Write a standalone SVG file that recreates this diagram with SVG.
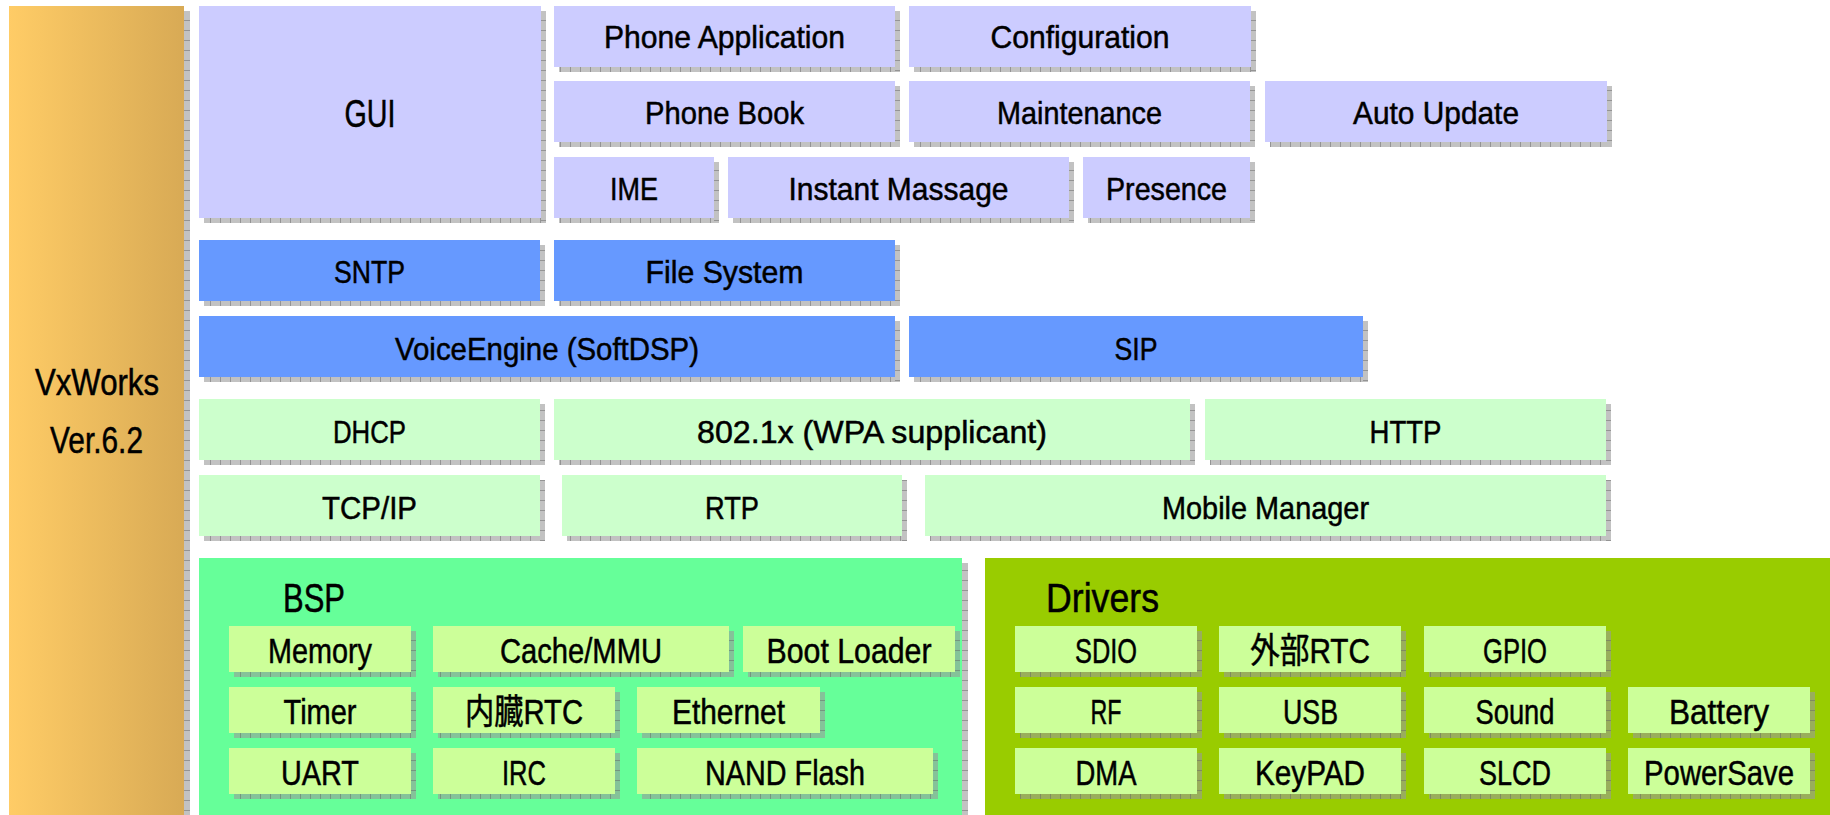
<svg xmlns="http://www.w3.org/2000/svg" width="1830" height="815" viewBox="0 0 1830 815">
<defs>
<linearGradient id="vxg" x1="0" y1="0" x2="1" y2="0">
<stop offset="0" stop-color="#FFCC66"/>
<stop offset="1" stop-color="#D8AA55"/>
</linearGradient>
<pattern id="ph" width="10" height="10" patternUnits="userSpaceOnUse">
<rect width="10" height="10" fill="#999" fill-opacity="0.6"/>
<rect width="1" height="10" fill="#666" fill-opacity="0.5"/>
</pattern>
<pattern id="pv" width="10" height="10" patternUnits="userSpaceOnUse">
<rect width="10" height="10" fill="#999" fill-opacity="0.6"/>
<rect width="10" height="1" fill="#666" fill-opacity="0.5"/>
</pattern>
<style>
.sb{fill:url(#ph)}
.sr{fill:url(#pv)}
.lav{fill:#CCCCFF}
.blu{fill:#6699FF}
.lgr{fill:#CCFFCC}
.bsp{fill:#66FF99}
.drv{fill:#99CC00}
.inn{fill:#CCFF99}
text{font-family:"Liberation Sans","Noto Sans CJK JP",sans-serif;fill:#000;stroke:#000;stroke-width:0.5px}
.t1{font-size:32px}
.t2{font-size:35px}
.t3{font-size:40px}
</style>
</defs>
<rect width="1830" height="815" fill="#FFFFFF"/>

<g id="vxworks">
<rect class="sr" x="184" y="11" width="6" height="804"/>
<rect x="9" y="6" width="175" height="809" fill="url(#vxg)"/>
<text x="35" y="395" style="font-size:36px" textLength="124" lengthAdjust="spacingAndGlyphs">VxWorks</text>
<text x="50" y="453" style="font-size:36px" textLength="93" lengthAdjust="spacingAndGlyphs">Ver.6.2</text>
</g>

<g id="gui">
<rect class="sr" x="541" y="11" width="5" height="212"/>
<rect class="sb" x="204" y="218" width="337" height="5"/>
<rect class="lav" x="199" y="6" width="342" height="212"/>
<text x="344.5" y="127" style="font-size:38px" textLength="51" lengthAdjust="spacingAndGlyphs">GUI</text>
</g>

<g id="phone-application">
<rect class="sr" x="895" y="11" width="5" height="61"/>
<rect class="sb" x="559" y="67" width="336" height="5"/>
<rect class="lav" x="554" y="6" width="341" height="61"/>
<text class="t1" x="604" y="48" textLength="241" lengthAdjust="spacingAndGlyphs">Phone Application</text>
</g>

<g id="configuration">
<rect class="sr" x="1251" y="11" width="5" height="61"/>
<rect class="sb" x="914" y="67" width="337" height="5"/>
<rect class="lav" x="909" y="6" width="342" height="61"/>
<text class="t1" x="990.5" y="48" textLength="179" lengthAdjust="spacingAndGlyphs">Configuration</text>
</g>

<g id="phone-book">
<rect class="sr" x="895" y="86" width="5" height="61"/>
<rect class="sb" x="559" y="142" width="336" height="5"/>
<rect class="lav" x="554" y="81" width="341" height="61"/>
<text class="t1" x="645" y="124" textLength="159" lengthAdjust="spacingAndGlyphs">Phone Book</text>
</g>

<g id="maintenance">
<rect class="sr" x="1250" y="86" width="5" height="61"/>
<rect class="sb" x="914" y="142" width="336" height="5"/>
<rect class="lav" x="909" y="81" width="341" height="61"/>
<text class="t1" x="997" y="124" textLength="165" lengthAdjust="spacingAndGlyphs">Maintenance</text>
</g>

<g id="auto-update">
<rect class="sr" x="1607" y="86" width="5" height="61"/>
<rect class="sb" x="1270" y="142" width="337" height="5"/>
<rect class="lav" x="1265" y="81" width="342" height="61"/>
<text class="t1" x="1353" y="124" textLength="166" lengthAdjust="spacingAndGlyphs">Auto Update</text>
</g>

<g id="ime">
<rect class="sr" x="714" y="162" width="5" height="61"/>
<rect class="sb" x="559" y="218" width="155" height="5"/>
<rect class="lav" x="554" y="157" width="160" height="61"/>
<text class="t1" x="610" y="200" textLength="48" lengthAdjust="spacingAndGlyphs">IME</text>
</g>

<g id="instant-massage">
<rect class="sr" x="1069" y="162" width="5" height="61"/>
<rect class="sb" x="733" y="218" width="336" height="5"/>
<rect class="lav" x="728" y="157" width="341" height="61"/>
<text class="t1" x="788.5" y="200" textLength="220" lengthAdjust="spacingAndGlyphs">Instant Massage</text>
</g>

<g id="presence">
<rect class="sr" x="1250" y="162" width="5" height="61"/>
<rect class="sb" x="1088" y="218" width="162" height="5"/>
<rect class="lav" x="1083" y="157" width="167" height="61"/>
<text class="t1" x="1106" y="200" textLength="121" lengthAdjust="spacingAndGlyphs">Presence</text>
</g>

<g id="sntp">
<rect class="sr" x="540" y="245" width="5" height="61"/>
<rect class="sb" x="204" y="301" width="336" height="5"/>
<rect class="blu" x="199" y="240" width="341" height="61"/>
<text class="t1" x="334" y="283" textLength="71" lengthAdjust="spacingAndGlyphs">SNTP</text>
</g>

<g id="file-system">
<rect class="sr" x="895" y="245" width="5" height="61"/>
<rect class="sb" x="559" y="301" width="336" height="5"/>
<rect class="blu" x="554" y="240" width="341" height="61"/>
<text class="t1" x="645.5" y="283" textLength="158" lengthAdjust="spacingAndGlyphs">File System</text>
</g>

<g id="voice-engine">
<rect class="sr" x="895" y="321" width="5" height="61"/>
<rect class="sb" x="204" y="377" width="691" height="5"/>
<rect class="blu" x="199" y="316" width="696" height="61"/>
<text class="t1" x="395" y="359.5" textLength="304" lengthAdjust="spacingAndGlyphs">VoiceEngine (SoftDSP)</text>
</g>

<g id="sip">
<rect class="sr" x="1363" y="321" width="5" height="61"/>
<rect class="sb" x="914" y="377" width="449" height="5"/>
<rect class="blu" x="909" y="316" width="454" height="61"/>
<text class="t1" x="1114.5" y="359.5" textLength="43" lengthAdjust="spacingAndGlyphs">SIP</text>
</g>

<g id="dhcp">
<rect class="sr" x="540" y="404" width="5" height="61"/>
<rect class="sb" x="204" y="460" width="336" height="5"/>
<rect class="lgr" x="199" y="399" width="341" height="61"/>
<text class="t1" x="333" y="442.5" textLength="73" lengthAdjust="spacingAndGlyphs">DHCP</text>
</g>

<g id="wpa-supplicant">
<rect class="sr" x="1190" y="404" width="5" height="61"/>
<rect class="sb" x="559" y="460" width="631" height="5"/>
<rect class="lgr" x="554" y="399" width="636" height="61"/>
<text class="t1" x="697" y="442.5" textLength="350" lengthAdjust="spacingAndGlyphs">802.1x (WPA supplicant)</text>
</g>

<g id="http">
<rect class="sr" x="1606" y="404" width="5" height="61"/>
<rect class="sb" x="1210" y="460" width="396" height="5"/>
<rect class="lgr" x="1205" y="399" width="401" height="61"/>
<text class="t1" x="1369.5" y="442.5" textLength="72" lengthAdjust="spacingAndGlyphs">HTTP</text>
</g>

<g id="tcp-ip">
<rect class="sr" x="540" y="480" width="5" height="61"/>
<rect class="sb" x="204" y="536" width="336" height="5"/>
<rect class="lgr" x="199" y="475" width="341" height="61"/>
<text class="t1" x="322" y="518.5" textLength="95" lengthAdjust="spacingAndGlyphs">TCP/IP</text>
</g>

<g id="rtp">
<rect class="sr" x="902" y="480" width="5" height="61"/>
<rect class="sb" x="567" y="536" width="335" height="5"/>
<rect class="lgr" x="562" y="475" width="340" height="61"/>
<text class="t1" x="705" y="518.5" textLength="54" lengthAdjust="spacingAndGlyphs">RTP</text>
</g>

<g id="mobile-manager">
<rect class="sr" x="1606" y="480" width="5" height="61"/>
<rect class="sb" x="930" y="536" width="676" height="5"/>
<rect class="lgr" x="925" y="475" width="681" height="61"/>
<text class="t1" x="1162" y="518.5" textLength="207" lengthAdjust="spacingAndGlyphs">Mobile Manager</text>
</g>

<g id="bsp">
<rect class="sr" x="962" y="563" width="6" height="260"/>
<rect class="bsp" x="199" y="558" width="763" height="262"/>
<text class="t3" x="283" y="612" textLength="62" lengthAdjust="spacingAndGlyphs">BSP</text>
</g>

<g id="drivers">
<rect class="drv" x="985" y="558" width="850" height="262"/>
<text class="t3" x="1046" y="612" textLength="113" lengthAdjust="spacingAndGlyphs">Drivers</text>
</g>

<g id="memory">
<rect class="sr" x="411" y="631" width="5" height="46"/>
<rect class="sb" x="234" y="672" width="177" height="5"/>
<rect class="inn" x="229" y="626" width="182" height="46"/>
<text class="t2" x="268" y="662.5" textLength="104" lengthAdjust="spacingAndGlyphs">Memory</text>
</g>

<g id="cache-mmu">
<rect class="sr" x="729" y="631" width="5" height="46"/>
<rect class="sb" x="438" y="672" width="291" height="5"/>
<rect class="inn" x="433" y="626" width="296" height="46"/>
<text class="t2" x="500" y="662.5" textLength="162" lengthAdjust="spacingAndGlyphs">Cache/MMU</text>
</g>

<g id="boot-loader">
<rect class="sr" x="955" y="631" width="5" height="46"/>
<rect class="sb" x="748" y="672" width="207" height="5"/>
<rect class="inn" x="743" y="626" width="212" height="46"/>
<text class="t2" x="766.5" y="662.5" textLength="165" lengthAdjust="spacingAndGlyphs">Boot Loader</text>
</g>

<g id="timer">
<rect class="sr" x="411" y="692" width="5" height="46"/>
<rect class="sb" x="234" y="733" width="177" height="5"/>
<rect class="inn" x="229" y="687" width="182" height="46"/>
<text class="t2" x="283.5" y="723.5" textLength="73" lengthAdjust="spacingAndGlyphs">Timer</text>
</g>

<g id="internal-rtc">
<rect class="sr" x="615" y="692" width="5" height="46"/>
<rect class="sb" x="438" y="733" width="177" height="5"/>
<rect class="inn" x="433" y="687" width="182" height="46"/>
<text class="t2" x="465" y="723.5" textLength="118" lengthAdjust="spacingAndGlyphs">内臓RTC</text>
</g>

<g id="ethernet">
<rect class="sr" x="820" y="692" width="5" height="46"/>
<rect class="sb" x="642" y="733" width="178" height="5"/>
<rect class="inn" x="637" y="687" width="183" height="46"/>
<text class="t2" x="672" y="723.5" textLength="113" lengthAdjust="spacingAndGlyphs">Ethernet</text>
</g>

<g id="uart">
<rect class="sr" x="411" y="753" width="5" height="46"/>
<rect class="sb" x="234" y="794" width="177" height="5"/>
<rect class="inn" x="229" y="748" width="182" height="46"/>
<text class="t2" x="281" y="784.5" textLength="78" lengthAdjust="spacingAndGlyphs">UART</text>
</g>

<g id="irc">
<rect class="sr" x="615" y="753" width="5" height="46"/>
<rect class="sb" x="438" y="794" width="177" height="5"/>
<rect class="inn" x="433" y="748" width="182" height="46"/>
<text class="t2" x="502" y="784.5" textLength="44" lengthAdjust="spacingAndGlyphs">IRC</text>
</g>

<g id="nand-flash">
<rect class="sr" x="933" y="753" width="5" height="46"/>
<rect class="sb" x="642" y="794" width="291" height="5"/>
<rect class="inn" x="637" y="748" width="296" height="46"/>
<text class="t2" x="705" y="784.5" textLength="160" lengthAdjust="spacingAndGlyphs">NAND Flash</text>
</g>

<g id="sdio">
<rect class="sr" x="1197" y="631" width="5" height="46"/>
<rect class="sb" x="1020" y="672" width="177" height="5"/>
<rect class="inn" x="1015" y="626" width="182" height="46"/>
<text class="t2" x="1075" y="662.5" textLength="62" lengthAdjust="spacingAndGlyphs">SDIO</text>
</g>

<g id="external-rtc">
<rect class="sr" x="1401" y="631" width="5" height="46"/>
<rect class="sb" x="1224" y="672" width="177" height="5"/>
<rect class="inn" x="1219" y="626" width="182" height="46"/>
<text class="t2" x="1250" y="662.5" textLength="120" lengthAdjust="spacingAndGlyphs">外部RTC</text>
</g>

<g id="gpio">
<rect class="sr" x="1606" y="631" width="5" height="46"/>
<rect class="sb" x="1429" y="672" width="177" height="5"/>
<rect class="inn" x="1424" y="626" width="182" height="46"/>
<text class="t2" x="1483" y="662.5" textLength="64" lengthAdjust="spacingAndGlyphs">GPIO</text>
</g>

<g id="rf">
<rect class="sr" x="1197" y="692" width="5" height="46"/>
<rect class="sb" x="1020" y="733" width="177" height="5"/>
<rect class="inn" x="1015" y="687" width="182" height="46"/>
<text class="t2" x="1090.5" y="723.5" textLength="31" lengthAdjust="spacingAndGlyphs">RF</text>
</g>

<g id="usb">
<rect class="sr" x="1401" y="692" width="5" height="46"/>
<rect class="sb" x="1224" y="733" width="177" height="5"/>
<rect class="inn" x="1219" y="687" width="182" height="46"/>
<text class="t2" x="1283" y="723.5" textLength="55" lengthAdjust="spacingAndGlyphs">USB</text>
</g>

<g id="sound">
<rect class="sr" x="1606" y="692" width="5" height="46"/>
<rect class="sb" x="1429" y="733" width="177" height="5"/>
<rect class="inn" x="1424" y="687" width="182" height="46"/>
<text class="t2" x="1475.5" y="723.5" textLength="79" lengthAdjust="spacingAndGlyphs">Sound</text>
</g>

<g id="battery">
<rect class="sr" x="1810" y="692" width="5" height="46"/>
<rect class="sb" x="1633" y="733" width="177" height="5"/>
<rect class="inn" x="1628" y="687" width="182" height="46"/>
<text class="t2" x="1669" y="723.5" textLength="100" lengthAdjust="spacingAndGlyphs">Battery</text>
</g>

<g id="dma">
<rect class="sr" x="1197" y="753" width="5" height="46"/>
<rect class="sb" x="1020" y="794" width="177" height="5"/>
<rect class="inn" x="1015" y="748" width="182" height="46"/>
<text class="t2" x="1075.5" y="784.5" textLength="61" lengthAdjust="spacingAndGlyphs">DMA</text>
</g>

<g id="keypad">
<rect class="sr" x="1401" y="753" width="5" height="46"/>
<rect class="sb" x="1224" y="794" width="177" height="5"/>
<rect class="inn" x="1219" y="748" width="182" height="46"/>
<text class="t2" x="1255" y="784.5" textLength="110" lengthAdjust="spacingAndGlyphs">KeyPAD</text>
</g>

<g id="slcd">
<rect class="sr" x="1606" y="753" width="5" height="46"/>
<rect class="sb" x="1429" y="794" width="177" height="5"/>
<rect class="inn" x="1424" y="748" width="182" height="46"/>
<text class="t2" x="1479" y="784.5" textLength="72" lengthAdjust="spacingAndGlyphs">SLCD</text>
</g>

<g id="powersave">
<rect class="sr" x="1810" y="753" width="5" height="46"/>
<rect class="sb" x="1633" y="794" width="177" height="5"/>
<rect class="inn" x="1628" y="748" width="182" height="46"/>
<text class="t2" x="1644" y="784.5" textLength="150" lengthAdjust="spacingAndGlyphs">PowerSave</text>
</g>

<g id="connectors"/>
</svg>
